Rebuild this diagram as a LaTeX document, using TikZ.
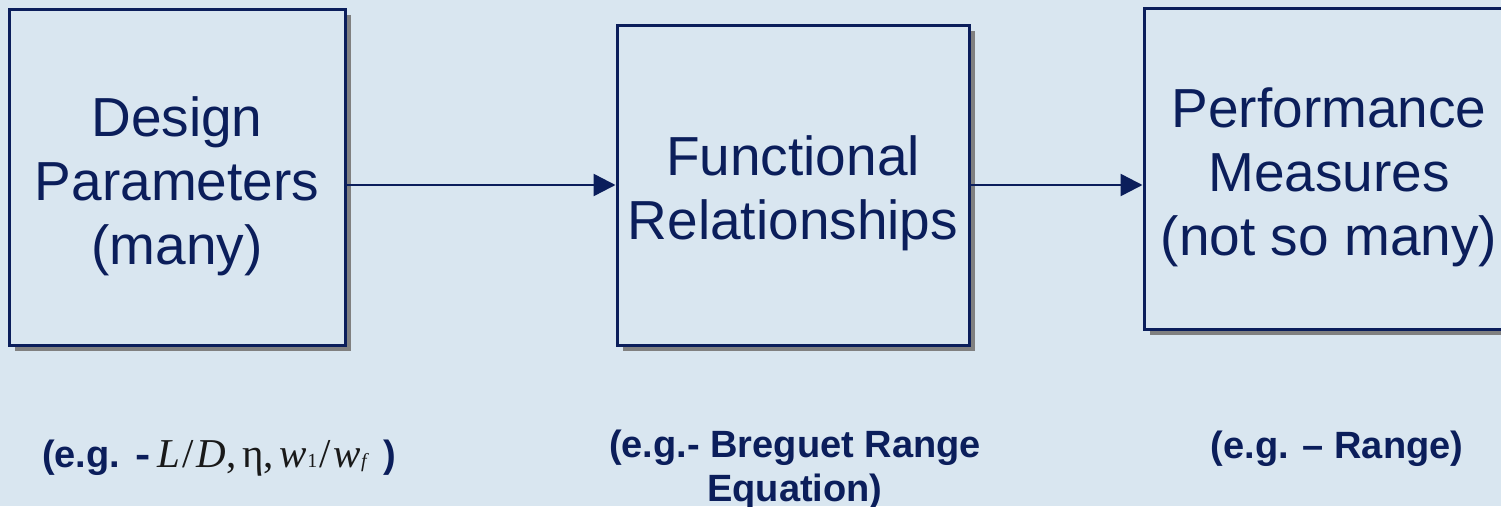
\documentclass[tikz,border=0pt]{standalone}
\usepackage{fontspec}
\setmainfont{Liberation Sans}
\newfontfamily\tnr{Liberation Serif}
\usetikzlibrary{arrows.meta,shadows}
\definecolor{bg}{HTML}{D9E6F0}
\definecolor{navy}{HTML}{0B1E5B}
\newcommand{\smallsub}[1]{{\fontsize{20}{20}\selectfont #1}}
\begin{document}
\begin{tikzpicture}[x=1pt,y=-1pt,
 box/.style={draw=navy, line width=3pt, fill=bg, inner sep=0pt,
   drop shadow={shadow xshift=6pt, shadow yshift=-6pt, fill=black!50, opacity=1}},
 boxtext/.style={text=navy, align=center, inner sep=0pt, font=\fontsize{55}{64}\selectfont},
 arr/.style={draw=navy, line width=2.5pt, -{Triangle[length=22pt,width=22pt]}},
 lbl/.style={text=navy, font=\bfseries\fontsize{38}{44}\selectfont, align=center, inner sep=0pt},
 mathlbl/.style={text=black!90, font=\tnr\fontsize{41}{44}\selectfont, inner sep=0pt}]
\fill[bg] (0,0) rectangle (1501,506);
\useasboundingbox (0,0) rectangle (1501,506);
\node[box, minimum width=336pt, minimum height=336pt] (b1) at (177,177) {};
\node[box, minimum width=352pt, minimum height=320pt] (b2) at (793,185) {};
\node[box, minimum width=370pt, minimum height=321pt] (b3) at (1329,168.5) {};
\node[boxtext] (t1) at (177,186) {Design\\Parameters\\(many)};
\node[boxtext] (t2) at (793,193) {Functional\\Relationships};
\node[boxtext] (t3) at (1329,177) {Performance\\Measures\\(not so many)};
\draw[arr] (b1.east |- b2.center) -- (b2.west);
\draw[arr] (b2.east) -- (b3.west |- b2.center);
\node[lbl, anchor=base west] (e1a) at (42,467) {(e.g.};
\node[lbl, anchor=base west, xscale=1.2] (e1b) at (135,467) {-};
\node[mathlbl, anchor=base west] (e1m) at (157,467) {\itshape L\upshape\hspace{2pt}/\hspace{3pt}\itshape D\upshape,\hspace{6pt}η,\hspace{6pt}\itshape w\upshape\smallsub{1}\hspace{2pt}/\hspace{3pt}\itshape w\smallsub{f}};
\node[lbl, anchor=base west] (e1c) at (383,467) {)};
\node[lbl, anchor=center] (e2) at (795,470) {(e.g.- Breguet Range\\Equation)};
\node[lbl, anchor=base] (e3) at (1337,458) {(e.g. – Range)};
\end{tikzpicture}
\end{document}
